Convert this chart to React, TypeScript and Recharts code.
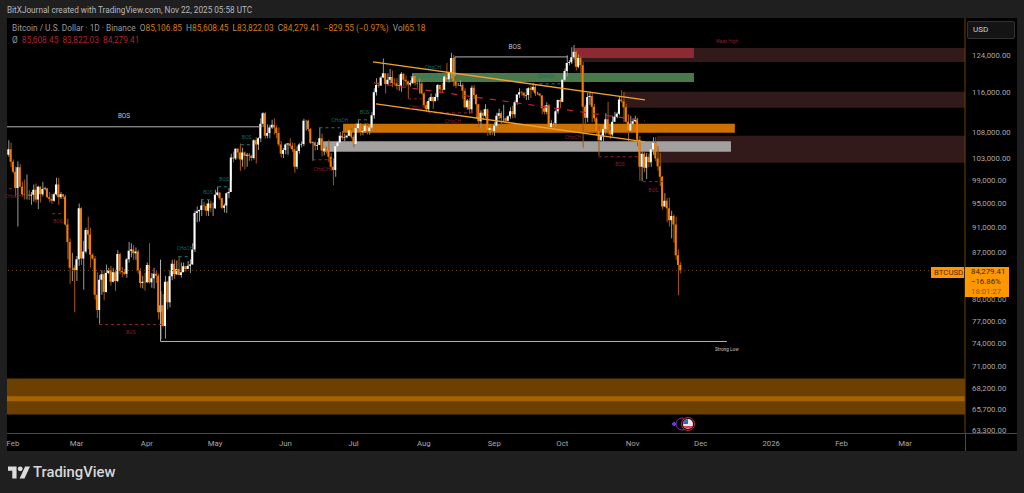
import { Bar, Cell, ComposedChart, ReferenceArea, ReferenceDot, ReferenceLine, XAxis, YAxis } from 'recharts';

const FONT = 'Roboto, "Liberation Sans", sans-serif';

// daily candles, Jan 30 2025 to Nov 22 2025, one line per month
const CLOSES = [
  104700, 102400,
  100600, 97700, 101400, 97900, 96600, 96500, 96500, 96400, 96500, 97400, 95700, 97900, 96600, 97500, 97600, 96100, 95800, 95500, 96600, 98300, 96100, 96600, 96200, 91500, 88700, 84700, 84700, 84300,
  86000, 94200, 86100, 87200, 90600, 89900, 86700, 86100, 80700, 78500, 82900, 83700, 81100, 83900, 84300, 82600, 84000, 82700, 86800, 84200, 84000, 83800, 86000, 87300, 87500, 86900, 87200, 84300, 82400, 82600, 82500,
  85100, 82500, 83100, 83800, 83500, 78200, 79200, 76300, 82600, 79600, 83400, 85300, 83700, 84500, 83600, 84000, 84900, 84500, 85000, 85200, 87500, 93400, 93700, 93900, 94700, 94600, 93800, 95000, 94200, 94200,
  96500, 96900, 95900, 94300, 94700, 96800, 97000, 103200, 103000, 104800, 104100, 102800, 104100, 103500, 103700, 103500, 103100, 106400, 105600, 106800, 109600, 111700, 107300, 107800, 108900, 109400, 108900, 107800, 105600, 103900, 104600,
  105600, 105800, 105400, 104700, 101500, 104400, 105600, 105700, 110200, 110200, 108600, 105900, 106000, 105400, 105500, 106800, 104500, 104800, 104600, 103300, 101500, 100900, 105300, 106000, 107300, 106900, 107000, 107300, 108300, 107100,
  105700, 108800, 109600, 108000, 108200, 109200, 108200, 108900, 111300, 116000, 117500, 117400, 119100, 120000, 117700, 118600, 119200, 117900, 117800, 117300, 117400, 119900, 118600, 118300, 117600, 117900, 119400, 117900, 117800, 117800, 115700,
  113300, 112500, 114200, 115000, 114100, 115000, 117500, 116600, 116500, 119300, 118700, 120100, 123300, 118300, 117400, 117400, 117500, 116300, 112900, 114300, 112500, 116900, 115400, 113500, 110100, 111800, 111200, 112500, 108400, 108800, 108200,
  109200, 111200, 111700, 110700, 110700, 110200, 111100, 112100, 111500, 113900, 115500, 116000, 115900, 115300, 115400, 116800, 116500, 117100, 115700, 115700, 115300, 112700, 112000, 113300, 109000, 109700, 109700, 112100, 114400, 114000,
  118600, 120500, 122200, 122400, 123500, 124700, 121400, 123300, 121700, 113000, 110800, 115000, 115200, 113000, 110700, 108200, 106400, 107200, 108600, 110500, 108400, 107500, 110000, 111000, 111600, 114500, 114100, 112900, 110000, 108300, 109600,
  110100, 110600, 106500, 101500, 103900, 101300, 103300, 102300, 104700, 105900, 103000, 101600, 99700, 94500, 95500, 94200, 92200, 92900, 91500, 86600, 85100, 84279,
];
const HIGHS = [
  106400, 106000,
  102800, 101500, 102500, 102000, 98800, 99200, 100100, 97300, 97000, 98300, 98500, 98100, 98000, 98800, 97900, 97700, 97000, 96700, 96900, 99500, 99500, 97000, 96700, 96500, 92500, 89300, 87000, 85100,
  86500, 95000, 94400, 88900, 91000, 92800, 91000, 86900, 86500, 84000, 83600, 84300, 84300, 85200, 84700, 85000, 84700, 84400, 87400, 87000, 84800, 84500, 86200, 88700, 88500, 88200, 87800, 87500, 84600, 83500, 83900,
  85500, 88500, 83900, 84700, 84200, 83800, 81200, 80800, 83500, 82700, 84300, 85900, 86000, 85800, 86500, 85500, 85500, 85000, 85700, 86000, 88500, 93800, 94500, 94000, 95700, 95300, 95000, 95600, 95500, 95200,
  97400, 97900, 96900, 96000, 95000, 96900, 97700, 103900, 104300, 104900, 104900, 105800, 105000, 104300, 104000, 104000, 103700, 106600, 107000, 107000, 110700, 111900, 111900, 109500, 109300, 110400, 110700, 109300, 108900, 106300, 105000,
  105800, 105900, 106800, 106000, 105900, 105300, 105900, 106200, 110600, 110400, 110400, 108800, 106200, 106200, 106100, 108900, 107700, 105500, 105200, 106500, 104000, 103000, 106000, 106300, 108000, 108200, 107700, 107500, 108400, 108800,
  107500, 109700, 110500, 109700, 108400, 109700, 109700, 109200, 111900, 116800, 118900, 118000, 119400, 123200, 119900, 120000, 120900, 120600, 118900, 118900, 119700, 120200, 120000, 119500, 118400, 118500, 119800, 119800, 118900, 118800, 118900,
  116000, 114000, 114800, 115700, 115100, 115700, 117700, 117600, 117900, 119500, 122300, 120300, 124500, 124000, 119300, 117900, 118500, 117900, 116800, 114600, 114800, 117400, 117500, 115600, 113600, 112300, 112600, 113500, 112600, 108800, 109500,
  109900, 111800, 112600, 112100, 113400, 110900, 111300, 112900, 113200, 114300, 115500, 116800, 116300, 116000, 116800, 117000, 117300, 117900, 117500, 116100, 115700, 115400, 113300, 113900, 113500, 110300, 109800, 112400, 114500, 114800,
  118700, 121000, 123900, 122900, 125700, 126200, 125000, 124100, 123700, 122500, 113400, 115800, 116000, 115900, 113600, 111000, 109200, 107700, 109400, 111700, 114000, 109100, 111200, 112000, 111900, 115000, 116400, 116000, 113600, 111500, 111200,
  110600, 111200, 110800, 107300, 104500, 104300, 104000, 103900, 105500, 107000, 107000, 105300, 104000, 99800, 96800, 96000, 96000, 93800, 93200, 92800, 87500, 85608,
];
const LOWS = [
  103300, 101500,
  100300, 96200, 91200, 97800, 96200, 95700, 95700, 95600, 94800, 95300, 95200, 94100, 95200, 96200, 97300, 96000, 95200, 94900, 95300, 96400, 94800, 95800, 95800, 91300, 86000, 82300, 82700, 78200,
  82700, 85000, 85100, 81400, 86900, 87600, 84700, 85900, 80000, 77400, 76600, 80700, 79900, 81000, 83700, 82000, 82500, 81200, 82500, 83700, 83300, 83600, 83200, 85500, 86300, 85900, 85900, 83800, 81700, 81600, 81300,
  82400, 82300, 81700, 81600, 82400, 77200, 74500, 76200, 74600, 78600, 78900, 82800, 83000, 83600, 83600, 83200, 84200, 84100, 84500, 83900, 85200, 87100, 91900, 92000, 92900, 93900, 92900, 92900, 93600, 92900,
  94100, 96300, 95600, 94100, 93500, 93400, 95900, 99000, 102300, 102700, 103000, 100700, 101500, 101000, 101500, 102600, 102600, 102800, 102100, 104600, 106100, 109000, 106700, 106800, 106800, 108600, 107500, 106800, 105300, 103200, 103100,
  103800, 103700, 104900, 104200, 100400, 101100, 103900, 105100, 105300, 108300, 108100, 105700, 102600, 104500, 104600, 105500, 103400, 103600, 103900, 102300, 100800, 98200, 99700, 104900, 105800, 106500, 106300, 106800, 107200, 106700,
  105100, 105600, 108600, 107300, 107400, 107800, 107500, 107500, 108300, 110600, 115300, 116900, 117300, 118900, 115700, 117400, 117800, 117000, 117400, 116500, 116300, 116100, 117300, 117200, 114700, 117200, 117700, 117400, 116900, 115700, 115500,
  112700, 112000, 112000, 114100, 112600, 114300, 114300, 115900, 116000, 116500, 118100, 118000, 118900, 117200, 116800, 117300, 117200, 114600, 112700, 112400, 111600, 111700, 114600, 110600, 109000, 108700, 110300, 110800, 107300, 107400, 107400,
  107300, 108700, 110500, 109300, 110000, 109900, 110100, 110600, 110700, 110800, 113400, 114800, 115300, 114800, 114400, 114400, 114800, 116100, 115200, 115400, 115100, 111500, 111500, 111500, 108700, 108600, 109000, 109100, 111600, 112700,
  113900, 118300, 119300, 121700, 122000, 123000, 120600, 121100, 119900, 105000, 109500, 109900, 113400, 109900, 110000, 107400, 103500, 106300, 106100, 107500, 107500, 106700, 107200, 110000, 110700, 111300, 113800, 109900, 109700, 106300, 108300,
  109400, 109800, 105300, 99000, 98900, 100500, 99300, 101400, 101500, 103700, 102500, 100800, 98000, 94000, 94500, 91900, 91200, 89300, 88600, 85900, 80600, 83822,
];
const FIRST_OPEN = 103700;

const PRICE_TICKS = [124000, 116000, 108000, 103000, 99000, 95000, 91000, 87000, 80000, 77000, 74000, 71000, 68200, 65700, 63300];
const DAY_TICKS = [0, 28, 59, 89, 120, 150, 181, 212, 242, 273, 303, 334, 365, 393];
const DAY_TICK_LABELS = ['Feb', 'Mar', 'Apr', 'May', 'Jun', 'Jul', 'Aug', 'Sep', 'Oct', 'Nov', 'Dec', '2026', 'Feb', 'Mar'];

// [from day, to day, low price, high price, colour]
const ZONES: [number, number, number, number, string][] = [
  [247.1, 419.4, 122460, 125560, '#321a1a'],
  [268.7, 419.4, 112780, 116060, '#321a1a'],
  [283.7, 419.4, 102210, 107270, '#321a1a'],
  [247.1, 300, 123340, 125560, '#8c2a34'],
  [175.8, 300, 118150, 120070, '#4a7a4c'],
  [145.4, 318, 107860, 109600, '#cc7000'],
  [136.6, 316.3, 104250, 106220, '#a3a0a0'],
  [-2.64, 419.4, 65120, 69450, '#6b4000'],
  [-2.64, 419.4, 66670, 67260, '#a86200'],
];

// [from day, from price, to day, to price]
const CHANNEL_LINES = [
  [158.6, 122460, 278.4, 114410],
  [159.9, 113590, 278.4, 106130],
];
const MID_LINE = [159, 117940, 278.4, 110190];
const WHITE_LINES = [
  [-2.64, 109020, 109.7, 109020],
  [194.7, 123560, 244.5, 123560],
  [194.7, 123560, 194.7, 119420],
  [65, 74210, 314.5, 74210],
  [65, 85930, 65, 74210],
];
// [from day, to day, price]
const RED_DASHES = [
  [37.9, 65.2, 76500],
  [17.2, 22, 93300],
  [-1.8, -0.4, 97580],
  [132, 140.5, 102770],
  [174, 180, 114620],
  [182.8, 204.4, 111770],
  [258, 276, 103320],
  [277.5, 286.3, 98810],
];
const GREEN_DASHES = [
  [73, 78, 86390],
  [82.8, 88, 95670],
  [90.3, 95.6, 97920],
  [100.4, 105.3, 105570],
  [135, 144, 108830],
  [152, 156.8, 110390],
  [175, 191.6, 119210],
  [232, 241, 117730],
];
const LIGHT = '#c4c4c4';
const RED_TEXT = '#8c1d2e';
const GREEN_TEXT = '#0f6e5f';
// [text, day, price, colour, font size]
const MARK_LABELS: [string, number, number, string, number][] = [
  ['BOS', 48.9, 111180, LIGHT, 6.4],
  ['BOS', 221, 125790, LIGHT, 6.4],
  ['Strong Low', 314.5, 73150, LIGHT, 4.7],
  ['Weak High', 314.5, 127150, RED_TEXT, 4.7],
  ['BOS', 52, 75410, RED_TEXT, 5],
  ['BOS', 19.8, 91980, RED_TEXT, 5],
  ['CHoCH', 0, 96190, RED_TEXT, 5],
  ['CHoCH', 136, 101120, RED_TEXT, 5],
  ['CHoCH', 178, 112990, RED_TEXT, 5],
  ['CHoCH', 193.8, 110190, RED_TEXT, 5],
  ['CHoCH', 246.7, 107090, RED_TEXT, 5],
  ['BOS', 267.4, 102030, RED_TEXT, 5],
  ['BOS', 282, 97390, RED_TEXT, 5],
  ['CHoCH', 75.8, 87640, GREEN_TEXT, 5],
  ['BOS', 85.9, 97040, GREEN_TEXT, 5],
  ['BOS', 93, 99330, GREEN_TEXT, 5],
  ['BOS', 103, 107090, GREEN_TEXT, 5],
  ['CHoCH', 144, 110390, GREEN_TEXT, 5],
  ['BOS', 155, 111970, GREEN_TEXT, 5],
  ['CHoCH', 185, 121370, GREEN_TEXT, 5],
  ['CHoCH', 234.8, 119420, GREEN_TEXT, 5],
];

const LAST_PRICE = 84279.41;
const DAY_DOMAIN = [-2.64, 419.4];
const PRICE_DOMAIN = [62930, 132480];

const candles = CLOSES.map((close, i) => {
  const open = i === 0 ? FIRST_OPEN : CLOSES[i - 1];
  return {
    day: i - 2,
    up: close >= open,
    wick: [LOWS[i], HIGHS[i]],
    body: [Math.min(open, close), Math.max(open, close)],
  };
});

const formatPrice = (v: number) => v.toLocaleString('en-US', { minimumFractionDigits: 2, maximumFractionDigits: 2 });
const formatDay = (v: number) => DAY_TICK_LABELS[DAY_TICKS.indexOf(v)] ?? '';

function Txt({ x, y, size, color, children, weight }: { x: number; y: number; size: number; color: string; children: React.ReactNode; weight?: number }) {
  return (
    <div style={{ position: 'absolute', left: x, top: y, fontSize: size, lineHeight: 1, color, fontWeight: weight, whiteSpace: 'pre' }}>{children}</div>
  );
}

export default function App() {
  return (
    <div style={{ position: 'fixed', left: 0, top: 0, width: 1024, height: 493, background: '#1f1f1f', overflow: 'hidden', fontFamily: FONT }}>
      <div style={{ position: 'absolute', left: 7, top: 18, width: 1010, height: 433, background: '#000' }} />
      <ComposedChart width={1024} height={493} data={candles} margin={{ top: 18, right: 7, bottom: 42, left: 7 }}>
        <XAxis
          dataKey="day"
          type="number"
          domain={DAY_DOMAIN}
          allowDataOverflow
          ticks={DAY_TICKS}
          interval={0}
          tickFormatter={formatDay}
          height={17.5}
          tickLine={false}
          tickSize={5}
          axisLine={{ stroke: '#6e4200' }}
          tick={{ fill: '#a8a8a8', fontSize: 7.8, fontFamily: FONT }}
        />
        <XAxis xAxisId="body" dataKey="day" type="number" domain={DAY_DOMAIN} allowDataOverflow hide />
        <YAxis
          orientation="right"
          scale="log"
          domain={PRICE_DOMAIN}
          allowDataOverflow
          ticks={PRICE_TICKS}
          interval={0}
          tickFormatter={formatPrice}
          width={52}
          tickLine={false}
          tickSize={5}
          axisLine={{ stroke: '#6e4200' }}
          tick={{ fill: '#a8a8a8', fontSize: 7.8, fontFamily: FONT, textAnchor: 'start' }}
        />
        <Bar dataKey="wick" barSize={1} isAnimationActive={false}>
          {candles.map((c) => (
            <Cell key={c.day} fill={c.up ? '#9a9a9a' : '#a85800'} />
          ))}
        </Bar>
        <Bar dataKey="body" xAxisId="body" barSize={2} isAnimationActive={false}>
          {candles.map((c) => (
            <Cell key={c.day} fill={c.up ? '#ffffff' : '#f57c00'} />
          ))}
        </Bar>
        {ZONES.map(([x1, x2, y1, y2, color], i) => (
          <ReferenceArea key={i} x1={x1} x2={x2} y1={y1} y2={y2} fill={color} fillOpacity={1} stroke="none" />
        ))}
        <ReferenceLine y={LAST_PRICE} stroke="#6e4410" strokeDasharray="1 3" />
        {WHITE_LINES.map(([x1, y1, x2, y2], i) => (
          <ReferenceLine key={i} segment={[{ x: x1, y: y1 }, { x: x2, y: y2 }]} stroke="#b4b4b4" strokeWidth={1} />
        ))}
        {RED_DASHES.map(([x1, x2, y], i) => (
          <ReferenceLine key={i} segment={[{ x: x1, y }, { x: x2, y }]} stroke="#96202f" strokeDasharray="3 3" />
        ))}
        {GREEN_DASHES.map(([x1, x2, y], i) => (
          <ReferenceLine key={i} segment={[{ x: x1, y }, { x: x2, y }]} stroke="#12806f" strokeDasharray="3 3" />
        ))}
        {CHANNEL_LINES.map(([x1, y1, x2, y2], i) => (
          <ReferenceLine key={i} segment={[{ x: x1, y: y1 }, { x: x2, y: y2 }]} stroke="#f0a030" strokeWidth={1.3} />
        ))}
        <ReferenceLine
          segment={[{ x: MID_LINE[0], y: MID_LINE[1] }, { x: MID_LINE[2], y: MID_LINE[3] }]}
          stroke="#c4203c"
          strokeWidth={1.2}
          strokeDasharray="6 7"
        />
        {MARK_LABELS.map(([text, x, y, color, size], i) => (
          <ReferenceDot
            key={i}
            x={x}
            y={y}
            r={0}
            stroke="none"
            label={{ value: text, position: 'center', fill: color, fontSize: size, fontFamily: FONT }}
          />
        ))}
      </ComposedChart>

      {/* axis lines run past the plot on the screenshot */}
      <div style={{ position: 'absolute', left: 965, top: 434, width: 1, height: 17, background: '#6e4200' }} />
      <div style={{ position: 'absolute', left: 965, top: 433, width: 52, height: 1, background: '#6e4200' }} />

      <Txt x={7} y={6} size={8.2} color="#b8b8b8">BitXJournal created with TradingView.com, Nov 22, 2025 05:58 UTC</Txt>
      <Txt x={12} y={24} size={8.3} color="#9a9a9a">
        {'Bitcoin / U.S. Dollar · 1D · Binance  O'}
        <span style={{ color: '#d87a10' }}>85,106.85</span>
        {'  H'}
        <span style={{ color: '#d87a10' }}>85,608.45</span>
        {'  L'}
        <span style={{ color: '#d87a10' }}>83,822.03</span>
        {'  C'}
        <span style={{ color: '#d87a10' }}>84,279.41  −829.55 (−0.97%)</span>
        {'  Vol'}
        <span style={{ color: '#d87a10' }}>65.18</span>
      </Txt>
      <Txt x={12} y={36} size={8.3} color="#9a9a9a">
        {'Ø  '}
        <span style={{ color: '#b02030' }}>{'85,608.45  83,822.03  84,279.41'}</span>
      </Txt>

      <div style={{ position: 'absolute', left: 967, top: 21, width: 46, height: 16, background: '#141414', border: '1px solid #333', borderRadius: 2 }} />
      <Txt x={973} y={26} size={8} color="#cfcfcf">USD</Txt>

      <div style={{ position: 'absolute', left: 931, top: 267, width: 33, height: 11, background: '#ff9800' }} />
      <Txt x={934} y={269} size={7.8} color="#4a2a00">BTCUSD</Txt>
      <div style={{ position: 'absolute', left: 965, top: 267, width: 44, height: 30, background: '#ff9800' }} />
      <Txt x={971} y={268} size={7.8} color="#3a2200">84,279.41</Txt>
      <Txt x={971} y={278} size={7.8} color="#3a2200">−16.86%</Txt>
      <Txt x={971} y={288} size={7.8} color="#8a5a10">18:01:27</Txt>

      {/* event markers on the time axis */}
      <svg style={{ position: 'absolute', left: 670, top: 414, width: 32, height: 20 }}>
        <circle cx={12} cy={10} r={6} fill="none" stroke="#7b2fa8" />
        <path d="M4 7.5 L6.5 10 L4 12.5 L1.5 10 Z" fill="#6a3df0" />
        <circle cx={18} cy={10} r={6.5} fill="#1a0508" stroke="#c8283c" />
        <circle cx={18} cy={10} r={5} fill="#e8e8f0" />
        <path d="M13.4 12 H22.6 L20 14.6 H16 Z" fill="#d84050" />
        <path d="M14 6.5 L18 5 V10 H13 Z" fill="#2d6cc0" />
      </svg>

      {/* brand mark, bottom left */}
      <svg style={{ position: 'absolute', left: 8, top: 466, width: 22, height: 13 }} viewBox="0 0 36 20">
        <path d="M0 0 H14 V20 H7 V7 H0 Z" fill="#dcdcdc" />
        <circle cx="20" cy="4" r="4" fill="#dcdcdc" />
        <path d="M28 0 H36 L27 20 H19 Z" fill="#dcdcdc" />
      </svg>
      <Txt x={33} y={465} size={14.8} color="#d8d8d8" weight={500}>TradingView</Txt>
    </div>
  );
}
